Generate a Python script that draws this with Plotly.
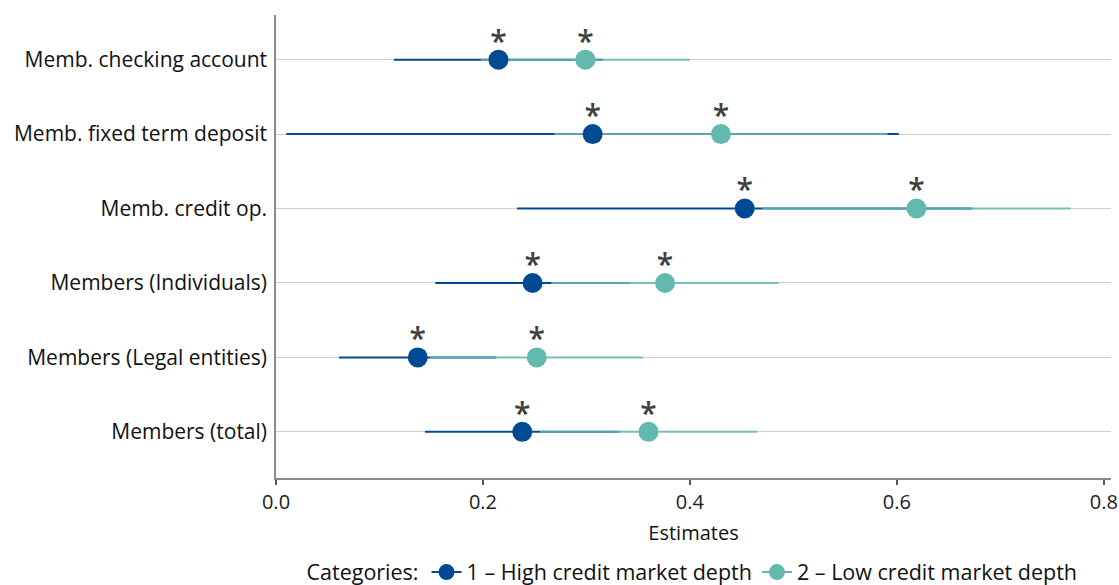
import plotly.graph_objects as go

# Outcome variables (bottom to top)
categories = [
    "Members (total)",
    "Members (Legal entities)",
    "Members (Individuals)",
    "Memb. credit op.",
    "Memb. fixed term deposit",
    "Memb. checking account",
]

# Point estimates and half-widths of the confidence intervals
high_est = [0.238, 0.137, 0.248, 0.453, 0.306, 0.215]
high_err = [0.094, 0.076, 0.094, 0.220, 0.296, 0.101]
low_est = [0.360, 0.252, 0.376, 0.619, 0.430, 0.299]
low_err = [0.105, 0.103, 0.110, 0.149, 0.161, 0.101]

# Significance markers
high_sig = ["*", "*", "*", "*", "*", "*"]
low_sig = ["*", "*", "*", "*", "*", "*"]

series_names = ["1 – High credit market depth", "2 – Low credit market depth"]
x_ticks = [0.0, 0.2, 0.4, 0.6, 0.8]

BLUE = "#004a93"
TEAL = "#63b9b0"
TEAL_LINE = "rgba(99,185,176,0.85)"
FONT = "Open Sans"

ypos = list(range(len(categories)))


def segments(est, err):
    xs, ys = [], []
    for y, e, d in zip(ypos, est, err):
        xs += [e - d, e + d, None]
        ys += [y, y, None]
    return xs, ys


def gapped(vals):
    out = []
    for v in vals:
        out += [v, None]
    return out


fig = go.Figure()

# Confidence intervals first so the dots sit on top
for est, err, col in [(high_est, high_err, BLUE), (low_est, low_err, TEAL_LINE)]:
    xs, ys = segments(est, err)
    fig.add_trace(go.Scatter(x=xs, y=ys, mode="lines",
                             line=dict(color=col, width=2),
                             showlegend=False, hoverinfo="skip"))

# Point estimates (gapped so the legend shows a line through the dot)
for est, col, name in [(high_est, BLUE, series_names[0]), (low_est, TEAL, series_names[1])]:
    fig.add_trace(go.Scatter(x=gapped(est), y=gapped(ypos), mode="lines+markers",
                             line=dict(color=col, width=2),
                             marker=dict(color=col, size=20),
                             name=name))

# Significance stars above each estimate
for est, sig in [(high_est, high_sig), (low_est, low_sig)]:
    fig.add_trace(go.Scatter(x=est, y=[y + 0.21 for y in ypos], mode="text",
                             text=sig,
                             textfont=dict(family=FONT, size=30, color="#404040",
                                           weight=600),
                             showlegend=False, hoverinfo="skip"))

fig.update_layout(
    width=1119, height=585,
    margin=dict(l=276, r=8, t=15, b=107, autoexpand=False),
    plot_bgcolor="white", paper_bgcolor="white",
    font=dict(family=FONT, size=20, color="#111111"),
    showlegend=True,
    legend=dict(orientation="h", x=0.5, xanchor="center", xref="paper",
                yref="container", y=0.022, yanchor="middle",
                title=dict(text="Categories:", side="left",
                           font=dict(family=FONT, size=21.5, color="#111111")),
                font=dict(family=FONT, size=21.5, color="#111111"),
                itemwidth=30, tracegroupgap=0),
)

fig.update_xaxes(
    range=[0, 0.807], tickvals=x_ticks, tickformat=".1f",
    showgrid=False, zeroline=False,
    showline=True, linecolor="#8a8a8a", linewidth=1.5,
    ticks="outside", ticklen=5, tickcolor="#555555", tickwidth=1.5,
    tickfont=dict(family=FONT, size=20, color="#222222"),
    ticklabeloverflow="allow",
    title=dict(text="Estimates", font=dict(family=FONT, size=20), standoff=12),
    automargin=False,
)

fig.update_yaxes(
    range=[-0.62, 5.6], tickvals=ypos, ticktext=categories,
    showgrid=True, gridcolor="#cccccc", gridwidth=1,
    zeroline=False, showline=True, linecolor="#8a8a8a", linewidth=1.5,
    ticks="", tickfont=dict(family=FONT, size=21, color="#111111"),
    ticklabelstandoff=3, automargin=False,
)

fig.write_html("out.html")
